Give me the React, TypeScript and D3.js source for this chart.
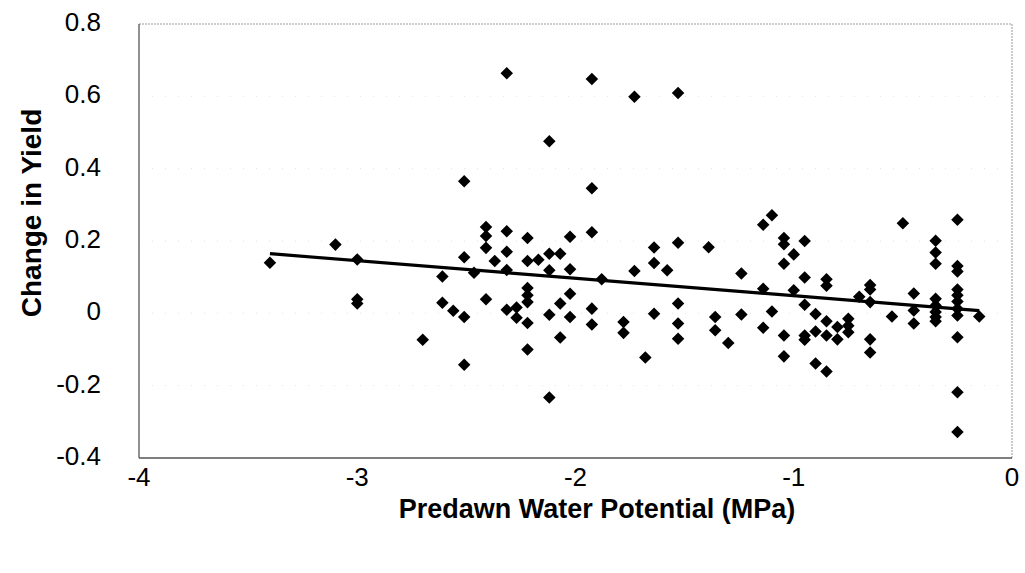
import React from "react";
import * as d3 from "d3";

// Data: [predawn water potential (MPa), change in yield]
const potentialGroups: number[] = [
  -3.4, -3.1, -3.0, -2.7, -2.61, -2.56, -2.51, -2.465, -2.41, -2.37, -2.315, -2.27, -2.22, -2.17,
  -2.12, -2.07, -2.025, -1.925, -1.88, -1.78, -1.73, -1.68, -1.64, -1.58, -1.53, -1.39, -1.36,
  -1.3, -1.24, -1.14, -1.1, -1.045, -1.0, -0.95, -0.9, -0.85, -0.8, -0.75, -0.7, -0.65, -0.55,
  -0.5, -0.45, -0.35, -0.25, -0.15,
];
const yieldGroups: number[][] = [
  [0.14],
  [0.19],
  [0.149, 0.039, 0.027],
  [-0.073],
  [0.102, 0.029],
  [0.007],
  [0.365, 0.155, -0.01, -0.142],
  [0.112],
  [0.239, 0.214, 0.181, 0.039],
  [0.145],
  [0.664, 0.227, 0.17, 0.12, 0.01],
  [0.016, -0.012],
  [0.208, 0.145, 0.07, 0.05, 0.031, -0.027, -0.1],
  [0.148],
  [0.476, 0.165, 0.119, -0.004, -0.233],
  [0.165, 0.027, -0.067],
  [0.212, 0.122, 0.054, -0.01],
  [0.648, 0.346, 0.224, 0.013, -0.031],
  [0.094],
  [-0.024, -0.054],
  [0.599, 0.117],
  [-0.122],
  [0.182, 0.139, -0.001],
  [0.119],
  [0.609, 0.195, 0.027, -0.028, -0.07],
  [0.183],
  [-0.01, -0.047],
  [-0.082],
  [0.11, -0.003],
  [0.245, 0.068, -0.04],
  [0.271, 0.005],
  [0.208, 0.191, 0.137, -0.061, -0.119],
  [0.163, 0.064],
  [0.2, 0.099, 0.024, -0.061, -0.073],
  [-0.002, -0.05, -0.139],
  [0.094, 0.076, -0.022, -0.061, -0.161],
  [-0.038, -0.072],
  [-0.015, -0.034, -0.052],
  [0.046],
  [0.078, 0.066, 0.031, -0.072, -0.108],
  [-0.009],
  [0.249],
  [0.055, 0.008, -0.028],
  [0.201, 0.168, 0.137, 0.04, 0.022, 0.004, -0.01, -0.022],
  [0.259, 0.131, 0.116, 0.066, 0.05, 0.033, 0.013, -0.006, -0.066, -0.218, -0.328],
  [-0.009],
];

const xTicks: number[] = [-4, -3, -2, -1, 0];
const yTicks: number[] = [0.8, 0.6, 0.4, 0.2, 0, -0.2, -0.4];
const yTickLabels: string[] = ["0.8", "0.6", "0.4", "0.2", "0", "-0.2", "-0.4"];

// Linear trend line
const trendSlope = -0.0484;
const trendIntercept = 0.0003;
const trendRange: number[] = [-3.4, -0.15];

const xTitle = "Predawn Water Potential (MPa)";
const yTitle = "Change in Yield";

export default function App() {
  const W = 1025;
  const H = 573;
  const left = 139;
  const right = 1012;
  const top = 24;
  const bottom = 458;

  const x = d3.scaleLinear().domain([-4, 0]).range([left, right]);
  const y = d3.scaleLinear().domain([-0.4, 0.8]).range([bottom, top]);

  const points: [number, number][] = [];
  potentialGroups.forEach((px, i) => {
    yieldGroups[i].forEach((v) => points.push([px, v]));
  });

  const diamond = d3.symbol().type(d3.symbolDiamond2).size(100)();

  const trendLine = d3
    .line<number>()
    .x((d) => x(d))
    .y((d) => y(trendSlope * d + trendIntercept))(trendRange);

  const font = "'Liberation Sans', Arial, sans-serif";

  return (
    <svg
      width={W}
      height={H}
      style={{ position: "absolute", left: 0, top: 0, background: "#fff" }}
    >
      <rect x={0} y={0} width={W} height={H} fill="#fff" />
      {/* faint gridlines */}
      {yTicks.slice(1, -1).map((t) => (
        <line
          key={"g" + t}
          x1={left}
          x2={right}
          y1={y(t)}
          y2={y(t)}
          stroke="#e2e2e2"
          strokeWidth={1}
          strokeDasharray="1,12"
        />
      ))}
      {/* plot border (dotted top/right) */}
      <line x1={left} x2={right} y1={top} y2={top} stroke="#999" strokeWidth={1} strokeDasharray="2,1" />
      <line x1={right} x2={right} y1={top} y2={bottom} stroke="#999" strokeWidth={1} strokeDasharray="2,1" />
      {/* axes */}
      <line x1={left} x2={left} y1={top} y2={bottom} stroke="#555" strokeWidth={1.3} />
      <line x1={left} x2={right} y1={bottom} y2={bottom} stroke="#555" strokeWidth={1.3} />

      {/* points */}
      {points.map((p, i) => (
        <path key={i} d={diamond as string} transform={`translate(${x(p[0])},${y(p[1])})`} fill="#000" />
      ))}

      {/* trend line */}
      <path d={trendLine as string} fill="none" stroke="#000" strokeWidth={3.2} />

      {/* y tick labels */}
      {yTicks.map((t, i) => (
        <text
          key={"yl" + t}
          x={101}
          y={y(t) - 2}
          textAnchor="end"
          dominantBaseline="central"
          fontFamily={font}
          fontSize={26}
          fill="#000"
        >
          {yTickLabels[i]}
        </text>
      ))}
      {/* x tick labels */}
      {xTicks.map((t) => (
        <text
          key={"xl" + t}
          x={x(t)}
          y={477}
          textAnchor="middle"
          dominantBaseline="central"
          fontFamily={font}
          fontSize={26}
          fill="#000"
        >
          {String(t)}
        </text>
      ))}
      {/* titles */}
      <text
        x={597}
        y={518}
        textAnchor="middle"
        fontFamily={font}
        fontWeight="bold"
        fontSize={27}
        fill="#000"
      >
        {xTitle}
      </text>
      <text
        transform={`translate(41,213) rotate(-90)`}
        textAnchor="middle"
        fontFamily={font}
        fontWeight="bold"
        fontSize={28}
        fill="#000"
      >
        {yTitle}
      </text>
    </svg>
  );
}
